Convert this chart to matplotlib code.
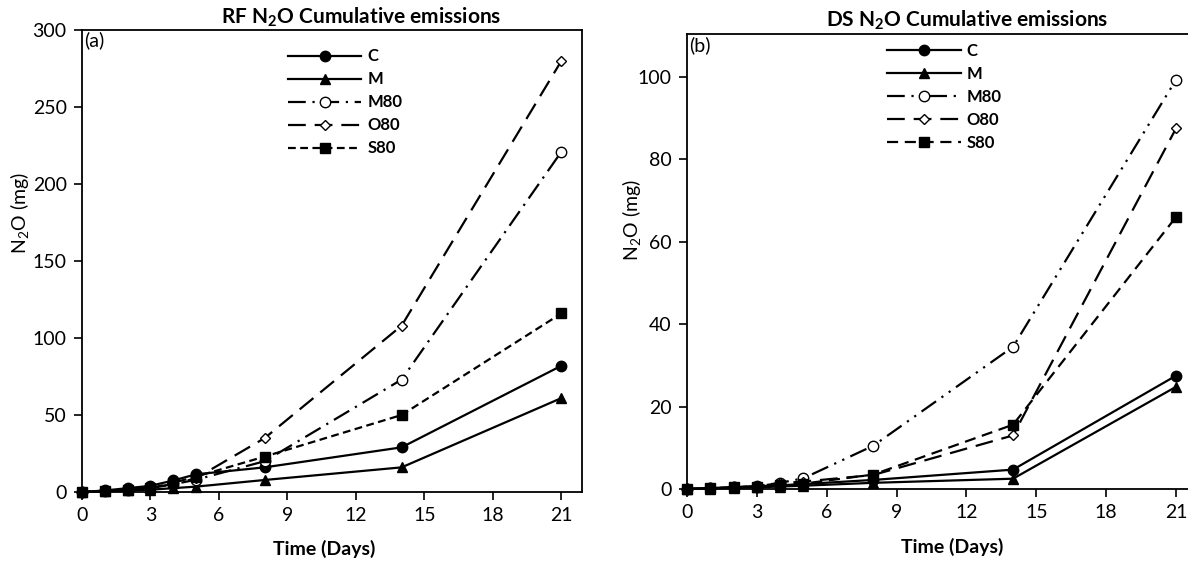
import matplotlib
matplotlib.use("Agg")
import matplotlib.pyplot as plt

plt.rcParams["font.family"] = ["Lato", "DejaVu Sans"]
plt.rcParams["mathtext.fontset"] = "custom"
plt.rcParams["mathtext.rm"] = "Lato"
plt.rcParams["mathtext.bf"] = "Lato:bold"

DAYS = [0, 1, 2, 3, 4, 5, 8, 14, 21]
SERIES = ["C", "M", "M80", "O80", "S80"]

# RF panel (a)
RF_C = [0, 1.0, 2.5, 4.0, 7.5, 11.5, 16, 29, 82]
RF_M = [0, 0.5, 1.0, 1.5, 2.5, 3.5, 7.8, 16, 61]
RF_M80 = [0, 0.5, 1.5, 2.5, 5.0, 8.0, 20, 73, 221]
RF_O80 = [0, 0.5, 1.5, 3.0, 5.0, 9.0, 35, 108, 280]
RF_S80 = [0, 0.8, 1.5, 2.5, 6.0, 10.0, 23, 50, 116]

# DS panel (b)
DS_C = [0, 0.2, 0.4, 0.6, 0.9, 1.2, 2.2, 4.7, 27.5]
DS_M = [0, 0.1, 0.3, 0.4, 0.6, 0.8, 1.5, 2.5, 24.8]
DS_M80 = [0, 0.2, 0.4, 0.7, 1.5, 2.6, 10.5, 34.5, 99.3]
DS_O80 = [0, 0.2, 0.4, 0.7, 1.4, 1.8, 3.4, 13.0, 87.5]
DS_S80 = [0, 0.2, 0.4, 0.6, 1.0, 1.3, 3.5, 15.6, 66.0]

RF_TITLE = r"RF N$_\mathbf{2}$O Cumulative emissions"
DS_TITLE = r"DS N$_\mathbf{2}$O Cumulative emissions"
YLABEL = r"N$_\mathregular{2}$O (mg)"
XLABEL = "Time (Days)"

W, H = 1188, 563


def styles(panel):
    m80_ls = (0, (8, 3, 1, 3)) if panel == "a" else (0, (8, 3, 1, 3, 1, 3))
    s80_ls = (0, (3.5, 2)) if panel == "a" else (0, (5, 3))
    return {
        "C": dict(ls="-", marker="o", ms=7.5, mfc="black"),
        "M": dict(ls="-", marker="^", ms=7.5, mfc="black"),
        "M80": dict(ls=m80_ls, marker="o", ms=7.5, mfc="white"),
        "O80": dict(ls=(0, (8, 4)), marker="D", ms=5, mfc="white"),
        "S80": dict(ls=s80_ls, marker="s", ms=7.5, mfc="black"),
    }


def px_rect(x0, y0, x1, y1):
    return [x0 / W, 1 - y1 / H, (x1 - x0) / W, (y1 - y0) / H]


def draw_panel(fig, rect, data, panel, ylim, yticks, leg_anchor, tag_y):
    ax = fig.add_axes(rect)
    st = styles(panel)
    for name, vals in zip(SERIES, data):
        s = st[name]
        ax.plot(DAYS, vals, color="black", lw=1.6, linestyle=s["ls"],
                marker=s["marker"], markersize=s["ms"], markerfacecolor=s["mfc"],
                markeredgecolor="black", markeredgewidth=1.0,
                label=name, clip_on=False, zorder=3)
    ax.set_xlim(0, 21.9)
    ax.set_ylim(*ylim)
    ax.set_xticks(range(0, 22, 3))
    ax.set_yticks(yticks)
    ax.tick_params(direction="out", length=6, width=1.2, labelsize=14, pad=5)
    for sp in ax.spines.values():
        sp.set_linewidth(1.3)
    ax.legend(loc="upper left", bbox_to_anchor=leg_anchor, frameon=False,
              handlelength=4.4, handletextpad=0.35, labelspacing=0.42,
              borderpad=0, borderaxespad=0, numpoints=1,
              prop={"weight": "bold", "size": 12})
    ax.text(0.005, tag_y, "(%s)" % panel, transform=ax.transAxes,
            fontsize=14, va="top", ha="left")
    return ax


def main() -> None:
    fig = plt.figure(figsize=(W / 100, H / 100), dpi=100)

    draw_panel(fig, px_rect(82, 30, 582, 492),
               [RF_C, RF_M, RF_M80, RF_O80, RF_S80], "a",
               (0, 300), range(0, 301, 50), (0.412, 0.96), 0.998)
    draw_panel(fig, px_rect(687, 34, 1197, 489),
               [DS_C, DS_M, DS_M80, DS_O80, DS_S80], "b",
               (0, 110.4), range(0, 101, 20), (0.393, 0.98), 0.995)

    fig.text(361 / W, 1 - 17 / H, RF_TITLE, ha="center", va="center",
             fontsize=15, fontweight="bold")
    fig.text(967 / W, 1 - 20 / H, DS_TITLE, ha="center", va="center",
             fontsize=15, fontweight="bold")
    fig.text(324 / W, 1 - 549 / H, XLABEL, ha="center", va="center",
             fontsize=14, fontweight="bold")
    fig.text(952 / W, 1 - 547 / H, XLABEL, ha="center", va="center",
             fontsize=14, fontweight="bold")
    fig.text(20 / W, 1 - 213 / H, YLABEL, ha="center", va="center",
             fontsize=14, rotation=90)
    fig.text(632 / W, 1 - 220 / H, YLABEL, ha="center", va="center",
             fontsize=14, rotation=90)

    fig.savefig("out.png", dpi=100)


if __name__ == "__main__":
    main()
